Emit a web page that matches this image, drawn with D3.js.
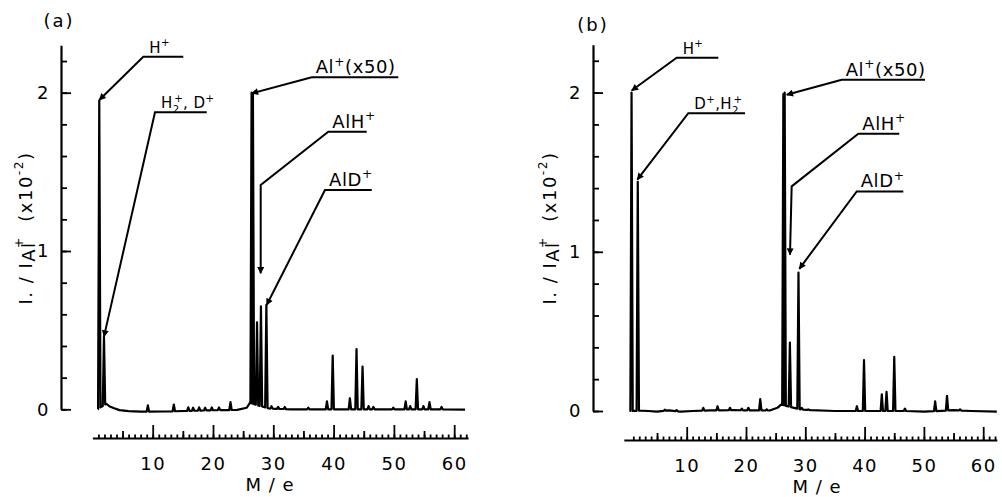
<!DOCTYPE html>
<html>
<head>
<meta charset="utf-8">
<script src="https://cdn.jsdelivr.net/npm/d3@7"></script>
<style>
  body { margin: 0; background: #fff; }
  svg { display: block; background: #fff; }
  text { font-family: 'DejaVu Sans', sans-serif; fill: #000; white-space: pre; }
</style>
</head>
<body>
<svg id="chart" width="1002" height="497"></svg>
<script>
'use strict';

var xLabels = [10, 20, 30, 40, 50, 60];
var yLabels = [0, 1, 2];

// (a): [M/e, I/I_Al+ x10^-2]
var peaksA = [
  [1.14, 1.95], [1.92, 0.46],
  [9.2, 0.025], [13.5, 0.03], [15.9, 0.012], [16.7, 0.01], [17.7, 0.012],
  [18.7, 0.01], [19.8, 0.012], [21.0, 0.012], [22.9, 0.045],
  [26.4, 2.0], [26.62, 1.99], [27.3, 0.55], [27.95, 0.65], [28.85, 0.66],
  [29.7, 0.02], [30.8, 0.015], [31.9, 0.015], [35.8, 0.01], [38.9, 0.05],
  [39.85, 0.34], [42.7, 0.07], [43.8, 0.38], [44.8, 0.27], [45.8, 0.02],
  [46.6, 0.015], [49.9, 0.01], [51.95, 0.05], [52.7, 0.02], [53.8, 0.19],
  [54.9, 0.02], [55.9, 0.045], [57.9, 0.015]
];
var baseA = [
  [0.85, 0], [2.3, 0.035], [2.8, 0.02], [3.5, 0.008], [4.5, -0.005],
  [6, -0.012], [8, -0.015], [12, -0.014], [16, -0.01], [20, -0.006],
  [24, -0.004], [25.6, 0.01], [26.1, 0.04], [29.3, 0.005], [33, 0],
  [40, 0], [50, 0], [58, 0], [61.8, -0.002]
];

// (b)
var peaksB = [
  [0.7, 2.0], [1.75, 1.44],
  [6.3, 0.008], [8.3, 0.006], [12.8, 0.02], [15.2, 0.03], [17.3, 0.02],
  [19.3, 0.015], [20.4, 0.02], [22.4, 0.075], [23.5, 0.01],
  [26.3, 1.99], [26.52, 2.0], [27.4, 0.43], [28.85, 0.87],
  [29.4, 0.02], [30.5, 0.01], [38.7, 0.03], [39.9, 0.32], [42.9, 0.105],
  [43.7, 0.12], [45.0, 0.34], [46.8, 0.015], [51.9, 0.06], [53.9, 0.095],
  [56.1, 0.01]
];
var baseB = [
  [0.35, 0], [2.1, 0.002], [3.5, 0], [5, -0.004], [7, 0.004], [9, -0.004],
  [11, 0], [14, 0.004], [18, 0.005], [21, 0.004], [24, 0.003], [25.3, 0.02],
  [25.9, 0.04], [29.2, 0.01], [31, 0.005], [35, 0], [40.5, 0], [47, 0],
  [50, -0.004], [55, 0.005], [58, 0], [62.3, -0.004]
];

// leader labels: tip / optional bend / elbow in data units, end of underline in M/e
var notesA = [
  {parts: [['H'], ['+', 'sup']], tip: [1.14, 1.954], elbow: [8.44, 2.227], end: 15.07},
  {parts: [['H'], ['2', 'sub'], ['+', 'over'], [', D'], ['+', 'sup']], tip: [1.92, 0.459], elbow: [10.38, 1.876], end: 18.96},
  {parts: [['Al'], ['+', 'sup'], ['(x50)']], big: true, tip: [26.42, 1.996], elbow: [36.37, 2.097], end: 50.73},
  {parts: [['AlH'], ['+', 'sup']], big: true, tip: [27.91, 0.859], bend: [27.91, 1.417], elbow: [39.12, 1.754], end: 45.49},
  {parts: [['AlD'], ['+', 'sup']], big: true, tip: [28.9, 0.659], elbow: [38.57, 1.385], end: 46.32}
];
var notesB = [
  {parts: [['H'], ['+', 'sup']], tip: [0.725, 2.013], elbow: [8.31, 2.219], end: 15.33},
  {parts: [['D'], ['+', 'sup'], [','], ['H'], ['2', 'sub'], ['+', 'over']], tip: [1.67, 1.453], elbow: [10.27, 1.871], end: 19.83},
  {parts: [['Al'], ['+', 'sup'], ['(x50)']], big: true, tip: [26.86, 1.986], elbow: [36.14, 2.08], end: 50.19},
  {parts: [['AlH'], ['+', 'sup']], big: true, tip: [27.42, 0.982], bend: [27.7, 1.411], elbow: [38.94, 1.741], end: 45.85},
  {parts: [['AlD'], ['+', 'sup']], big: true, tip: [28.99, 0.893], elbow: [38.67, 1.379], end: 46.53}
];

var yLabelParts = [['I. / I'], ['Al', 'low'], ['+', 'over'], ['  (x10'], ['-2', 'sup'], [')']];

var panels = [
  {title: '(a)', peaks: peaksA, base: baseA, notes: notesA,
   xr: [92.4, 6.03], xmin: 0, yr: [409.3, 158.3], axisX: 61, ruleY: 438,
   titleAt: [59, 27], ylabAt: [27, 228], xlabAt: [270, 491]},
  {title: '(b)', peaks: peaksB, base: baseB, notes: notesB,
   xr: [627.4, 5.93], xmin: -0.6, yr: [411, 159.2], axisX: 593, ruleY: 440,
   titleAt: [593, 31], ylabAt: [551, 228], xlabAt: [817, 493]}
];

var svg = d3.select('#chart');

svg.append('defs').append('marker')
  .attr('id', 'tip')
  .attr('viewBox', '0 0 10 10')
  .attr('refX', 9)
  .attr('refY', 5)
  .attr('markerUnits', 'userSpaceOnUse')
  .attr('markerWidth', 11)
  .attr('markerHeight', 7)
  .attr('orient', 'auto')
  .append('path')
  .attr('d', 'M0,0L10,5L0,10z')
  .attr('fill', '#000');

function rich(text, parts, size) {
  var shift = 0;
  parts.forEach(function (p) {
    var kind = p[1] || 'normal';
    var target = 0;
    if (kind === 'sup' || kind === 'over') { target = -0.42 * size; }
    if (kind === 'sub') { target = 0.3 * size; }
    if (kind === 'low') { target = 0.18 * size; }
    var t = text.append('tspan').attr('dy', target - shift).text(p[0]);
    if (kind === 'sup' || kind === 'over' || kind === 'sub') {
      t.attr('font-size', size * 0.68);
    }
    if (kind === 'over') { t.attr('dx', -size * 0.36); }
    shift = target;
  });
}

var hw = 0.2;

function trace(peaks, base) {
  var level = d3.scaleLinear()
    .domain(base.map(function (d) { return d[0]; }))
    .range(base.map(function (d) { return d[1]; }))
    .clamp(true);
  var sorted = peaks.slice().sort(function (a, b) { return a[0] - b[0]; });
  var spans = [];
  var pts = [];
  sorted.forEach(function (p, i) {
    var prev = i > 0 ? sorted[i - 1][0] : -Infinity;
    var next = i < sorted.length - 1 ? sorted[i + 1][0] : Infinity;
    var l = p[0] - Math.min(hw, (p[0] - prev) / 2);
    var r = p[0] + Math.min(hw, (next - p[0]) / 2);
    spans.push([l, r]);
    pts.push([l, level(l)], [p[0], p[1]], [r, level(r)]);
  });
  base.forEach(function (b) {
    var inside = spans.some(function (s) { return b[0] >= s[0] && b[0] <= s[1]; });
    if (!inside) { pts.push(b); }
  });
  pts.sort(function (a, b) { return a[0] - b[0]; });
  return pts;
}

panels.forEach(function (pn) {
  var g = svg.append('g');

  var x = d3.scaleLinear()
    .domain([pn.xmin, 62.3])
    .range([pn.xr[0] + pn.xmin * pn.xr[1], pn.xr[0] + 62.3 * pn.xr[1]]);
  var y = d3.scaleLinear()
    .domain([0, 2.3])
    .range([pn.yr[0], pn.yr[0] - 2.3 * pn.yr[1]]);

  // y axis: minor then major ticks, drawn to the inside
  var yMinor = g.append('g')
    .attr('transform', 'translate(' + pn.axisX + ',0)')
    .call(d3.axisLeft(y)
      .tickValues(d3.range(0, 2.21, 0.2))
      .tickSizeInner(-6)
      .tickSizeOuter(0)
      .tickFormat(''));
  var yMajor = g.append('g')
    .attr('transform', 'translate(' + pn.axisX + ',0)')
    .call(d3.axisLeft(y)
      .tickValues(yLabels)
      .tickSizeInner(-10)
      .tickSizeOuter(0)
      .tickPadding(11)
      .tickFormat(d3.format('d')));
  yMajor.select('.domain').remove();

  // x rule below the trace, ticks pointing up
  var xMinor = g.append('g')
    .attr('transform', 'translate(0,' + pn.ruleY + ')')
    .call(d3.axisBottom(x)
      .tickValues(d3.range(1, 63))
      .tickSizeInner(-3.5)
      .tickSizeOuter(0)
      .tickFormat(''));
  var xMid = g.append('g')
    .attr('transform', 'translate(0,' + pn.ruleY + ')')
    .call(d3.axisBottom(x)
      .tickValues([5, 15, 25, 35, 45, 55])
      .tickSizeInner(-7)
      .tickSizeOuter(0)
      .tickFormat(''));
  var xMajor = g.append('g')
    .attr('transform', 'translate(0,' + pn.ruleY + ')')
    .call(d3.axisBottom(x)
      .tickValues(xLabels)
      .tickSizeInner(-13)
      .tickSizeOuter(0)
      .tickPadding(19)
      .tickFormat(d3.format('d')));
  xMid.select('.domain').remove();
  xMajor.select('.domain').remove();

  [yMinor, yMajor, xMinor, xMid, xMajor].forEach(function (ax) {
    ax.selectAll('.domain').attr('stroke-width', 2.2);
    ax.selectAll('.tick line').attr('stroke-width', 1.8);
    ax.selectAll('.tick text')
      .attr('font-family', "'DejaVu Sans', sans-serif")
      .attr('font-size', 18)
      .attr('letter-spacing', 1.5);
  });

  // spectrum
  g.append('path')
    .datum(trace(pn.peaks, pn.base))
    .attr('fill', 'none')
    .attr('stroke', '#000')
    .attr('stroke-width', 2.2)
    .attr('stroke-linejoin', 'round')
    .attr('d', d3.line()
      .x(function (d) { return x(d[0]); })
      .y(function (d) { return y(d[1]); }));

  // leaders and labels
  var notes = g.selectAll('g.note')
    .data(pn.notes)
    .enter().append('g')
    .attr('class', 'note');

  notes.append('path')
    .attr('fill', 'none')
    .attr('stroke', '#000')
    .attr('stroke-width', 2)
    .attr('marker-end', 'url(#tip)')
    .attr('d', function (d) {
      var pts = [[d.end, d.elbow[1]], d.elbow];
      if (d.bend) { pts.push(d.bend); }
      pts.push(d.tip);
      return d3.line()
        .x(function (p) { return x(p[0]); })
        .y(function (p) { return y(p[1]); })(pts);
    });

  notes.each(function (d) {
    var size = d.big ? 18 : 15;
    var t = d3.select(this).append('text')
      .attr('x', x(d.elbow[0]) + (d.big ? 4 : 6))
      .attr('y', y(d.elbow[1]) - 4)
      .attr('font-size', size)
      .attr('letter-spacing', d.big ? 0.6 : 0.4);
    rich(t, d.parts, size);
  });

  // titles and axis names
  g.append('text')
    .attr('x', pn.titleAt[0])
    .attr('y', pn.titleAt[1])
    .attr('text-anchor', 'middle')
    .attr('font-size', 18)
    .attr('letter-spacing', 2)
    .text(pn.title);

  g.append('text')
    .attr('x', pn.xlabAt[0])
    .attr('y', pn.xlabAt[1])
    .attr('text-anchor', 'middle')
    .attr('font-size', 18)
    .attr('letter-spacing', 1)
    .text('M / e');

  var yl = g.append('text')
    .attr('transform', 'translate(' + pn.ylabAt[0] + ',' + pn.ylabAt[1] + ') rotate(-90)')
    .attr('text-anchor', 'middle')
    .attr('dominant-baseline', 'middle')
    .attr('font-size', 18)
    .attr('letter-spacing', 1.5);
  rich(yl, yLabelParts, 18);
});
</script>
</body>
</html>
